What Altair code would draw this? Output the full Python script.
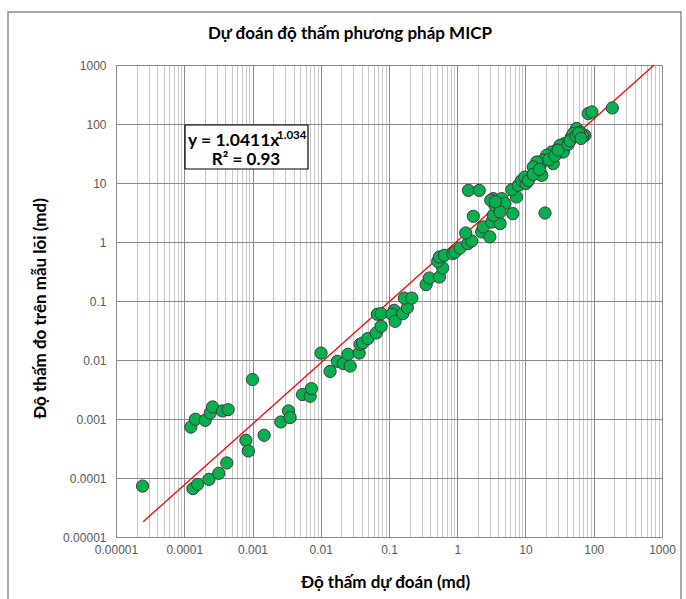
import altair as alt
import pandas as pd

# Predicted permeability (md) and measured core permeability (md)
pred = [2.45e-5, 1.25e-4, 1.46e-4, 2.03e-4, 2.4e-4, 2.6e-4, 3.64e-4, 4.4e-4, 1.0e-3, 8.0e-4,
        8.7e-4, 1.48e-3, 2.6e-3, 3.37e-3, 3.56e-3, 5.4e-3, 7.0e-3, 7.3e-3, 1.34e-4, 1.57e-4,
        2.3e-4, 3.2e-4, 4.2e-4,
        0.0101, 0.0137, 0.0175, 0.0215, 0.027, 0.025, 0.0365, 0.0378, 0.0413, 0.049,
        0.065, 0.0766, 0.0676, 0.0766, 0.119, 0.11, 0.123, 0.159, 0.186, 0.168, 0.216,
        0.35, 0.39, 0.547, 0.613, 0.518, 0.547, 0.647, 0.86, 0.93, 1.1, 1.43, 1.63, 1.72,
        1.33, 2.28, 2.41, 1.46, 2.1, 19.3, 6.5, 3.2, 4.24, 3.38, 3.57, 3.38, 4.48, 5.0,
        4.24, 3.1, 3.6, 3.0, 7.4, 6.3, 7.85, 8.8, 11.6, 14.6, 16.3, 20.4, 17.3, 10.2,
        187, 83, 94, 74, 56, 63, 47, 50, 38, 32, 28.6, 24.2, 20.4, 18.2, 14.6, 13, 9.8,
        25.5, 35.7, 69, 11, 13, 16, 22, 27, 30, 42, 45, 55, 60, 65]
meas = [7.3e-5, 7.3e-4, 9.9e-4, 9.5e-4, 1.26e-3, 1.6e-3, 1.37e-3, 1.44e-3, 4.66e-3, 4.35e-4,
        2.87e-4, 5.3e-4, 8.9e-4, 1.37e-3, 1.06e-3, 2.6e-3, 2.43e-3, 3.27e-3, 6.6e-5, 7.8e-5,
        9.5e-5, 1.2e-4, 1.8e-4,
        0.0131, 0.0064, 0.0095, 0.0087, 0.0079, 0.0125, 0.0131, 0.0185, 0.0194, 0.0231,
        0.0287, 0.0372, 0.0596, 0.061, 0.0695, 0.0596, 0.0453, 0.061, 0.0773, 0.112, 0.112,
        0.19, 0.245, 0.255, 0.362, 0.47, 0.557, 0.595, 0.636, 0.68, 0.79, 0.94, 1.04, 2.73,
        1.42, 1.48, 1.8, 7.5, 7.5, 3.1, 3.03, 2.18, 2.05, 2.84, 4.19, 5.44, 5.44, 4.48,
        3.22, 5.1, 4.8, 1.22, 5.8, 7.7, 9.1, 11.1, 12.6, 16.4, 20, 27.6, 13.5, 9.8,
        187, 150, 160, 64, 84, 73, 60, 69, 47, 43.5, 36, 33.5, 29.5, 24.3, 22.7, 18.7, 12.6,
        21.3, 33.5, 62, 11, 14, 17, 25, 29, 36, 45, 52, 62, 70, 57]

# Power trendline y = 1.0411 x^1.034 (R² = 0.93), drawn between these x limits
trend_x = [2.5e-5, 766.4]
coef_a = 1.0411
coef_b = 1.034

y_decades = [1e-5, 1e-4, 1e-3, 1e-2, 1e-1, 1, 10, 100, 1000]
x_grid = [float(f"{m}e{k}") for k in range(-5, 3) for m in range(1, 10)] + [1000.0]

title_text = "Dự đoán độ thấm phương pháp MICP"
x_title = "Độ thấm dự đoán (md)"
y_title = "Độ thấm đo trên mẫu lõi (md)"
eq_text = "y = 1.0411x"
eq_exp = "1.034"
r2_text = "R² = 0.93"

W, H = 546, 472
is_decade = "abs(log(datum.value)/LN10 - round(log(datum.value)/LN10)) < 0.001"
label_expr = (f"{is_decade} ? (datum.value >= 1 ? format(datum.value, 'd') : "
              "format(datum.value, '.' + (-round(log(datum.value)/LN10)) + 'f')) : ''")

xscale = alt.Scale(type="log", domain=[1e-5, 1000], nice=False)
yscale = alt.Scale(type="log", domain=[1e-5, 1000], nice=False)

x_axis = alt.Axis(values=x_grid, labelExpr=label_expr, title=x_title, grid=True,
                  gridColor={"condition": {"test": is_decade, "value": "#8a8a8a"}, "value": "#c8c8c8"},
                  gridWidth=1, ticks=False, domain=False, labelFont="Liberation Sans",
                  labelFontSize=12, labelColor="#595959", labelPadding=7, labelFlush=False,
                  labelOverlap=False, titleFont="Lato", titleFontSize=17, titleFontWeight="bold",
                  titleColor="#000000", titleX=269, titleY=45, titleBaseline="middle")
y_axis = alt.Axis(values=y_decades, labelExpr=label_expr, title=y_title, grid=True,
                  gridColor="#8a8a8a", gridWidth=1, ticks=False, domain=False,
                  labelFont="Liberation Sans", labelFontSize=12, labelColor="#595959",
                  labelPadding=10, labelFlush=False, labelOverlap=False,
                  titleFont="Lato", titleFontSize=17, titleFontWeight="bold", titleColor="#000000",
                  titleX=-76, titleY=243, titleBaseline="middle", titleAngle=-90)

pts = pd.DataFrame({"pred": pred, "meas": meas})
points = alt.Chart(pts).mark_point(filled=True, size=150, fill="#07B04F", stroke="#3c3c3c",
                                   strokeWidth=1, opacity=1).encode(
    x=alt.X("pred:Q", scale=xscale, axis=x_axis),
    y=alt.Y("meas:Q", scale=yscale, axis=y_axis),
)

trend = alt.Chart(pd.DataFrame({"pred": trend_x})).transform_calculate(
    meas=f"{coef_a} * pow(datum.pred, {coef_b})"
).mark_line(color="#FF0000", strokeWidth=1.3).encode(
    x=alt.X("pred:Q", scale=xscale, axis=x_axis),
    y=alt.Y("meas:Q", scale=yscale, axis=y_axis),
)

one = pd.DataFrame({"k": [0]})
box = alt.Chart(one).mark_rect(fill="white", stroke="#000000", strokeWidth=1.2).encode(
    x=alt.value(69), x2=alt.value(192), y=alt.value(60), y2=alt.value(104))
eq1 = alt.Chart(one).mark_text(text=eq_text, font="Lato", fontSize=17.5, fontWeight="bold",
                               align="left", baseline="middle", color="#000").encode(
    x=alt.value(72), y=alt.value(76))
eq2 = alt.Chart(one).mark_text(text=eq_exp, font="Lato", fontSize=11.5, fontWeight="bold",
                               align="left", baseline="middle", color="#000").encode(
    x=alt.value(161), y=alt.value(71))
r2 = alt.Chart(one).mark_text(text=r2_text, font="Lato", fontSize=17, fontWeight="bold",
                              align="center", baseline="middle", color="#000").encode(
    x=alt.value(130), y=alt.value(95))
border = alt.Chart(one).mark_rect(fill=None, stroke="#8c8c8c", strokeWidth=1.5).encode(
    x=alt.value(-108), x2=alt.value(565), y=alt.value(-53), y2=alt.value(560))

chart = alt.layer(border, trend, points, box, eq1, eq2, r2).properties(
    width=W, height=H,
    title=alt.TitleParams(title_text, font="Lato", fontSize=17, fontWeight="bold",
                          color="#000", anchor="middle", frame="group", dx=-39, offset=-32),
    autosize=alt.AutoSizeParams(type="none"),
    padding={"left": 116, "top": 65, "right": 24, "bottom": 62},
).configure_view(stroke="#000000", strokeWidth=1.2).configure(background="white")

chart.save("out.html", embed_options={"renderer": "svg", "actions": False})
